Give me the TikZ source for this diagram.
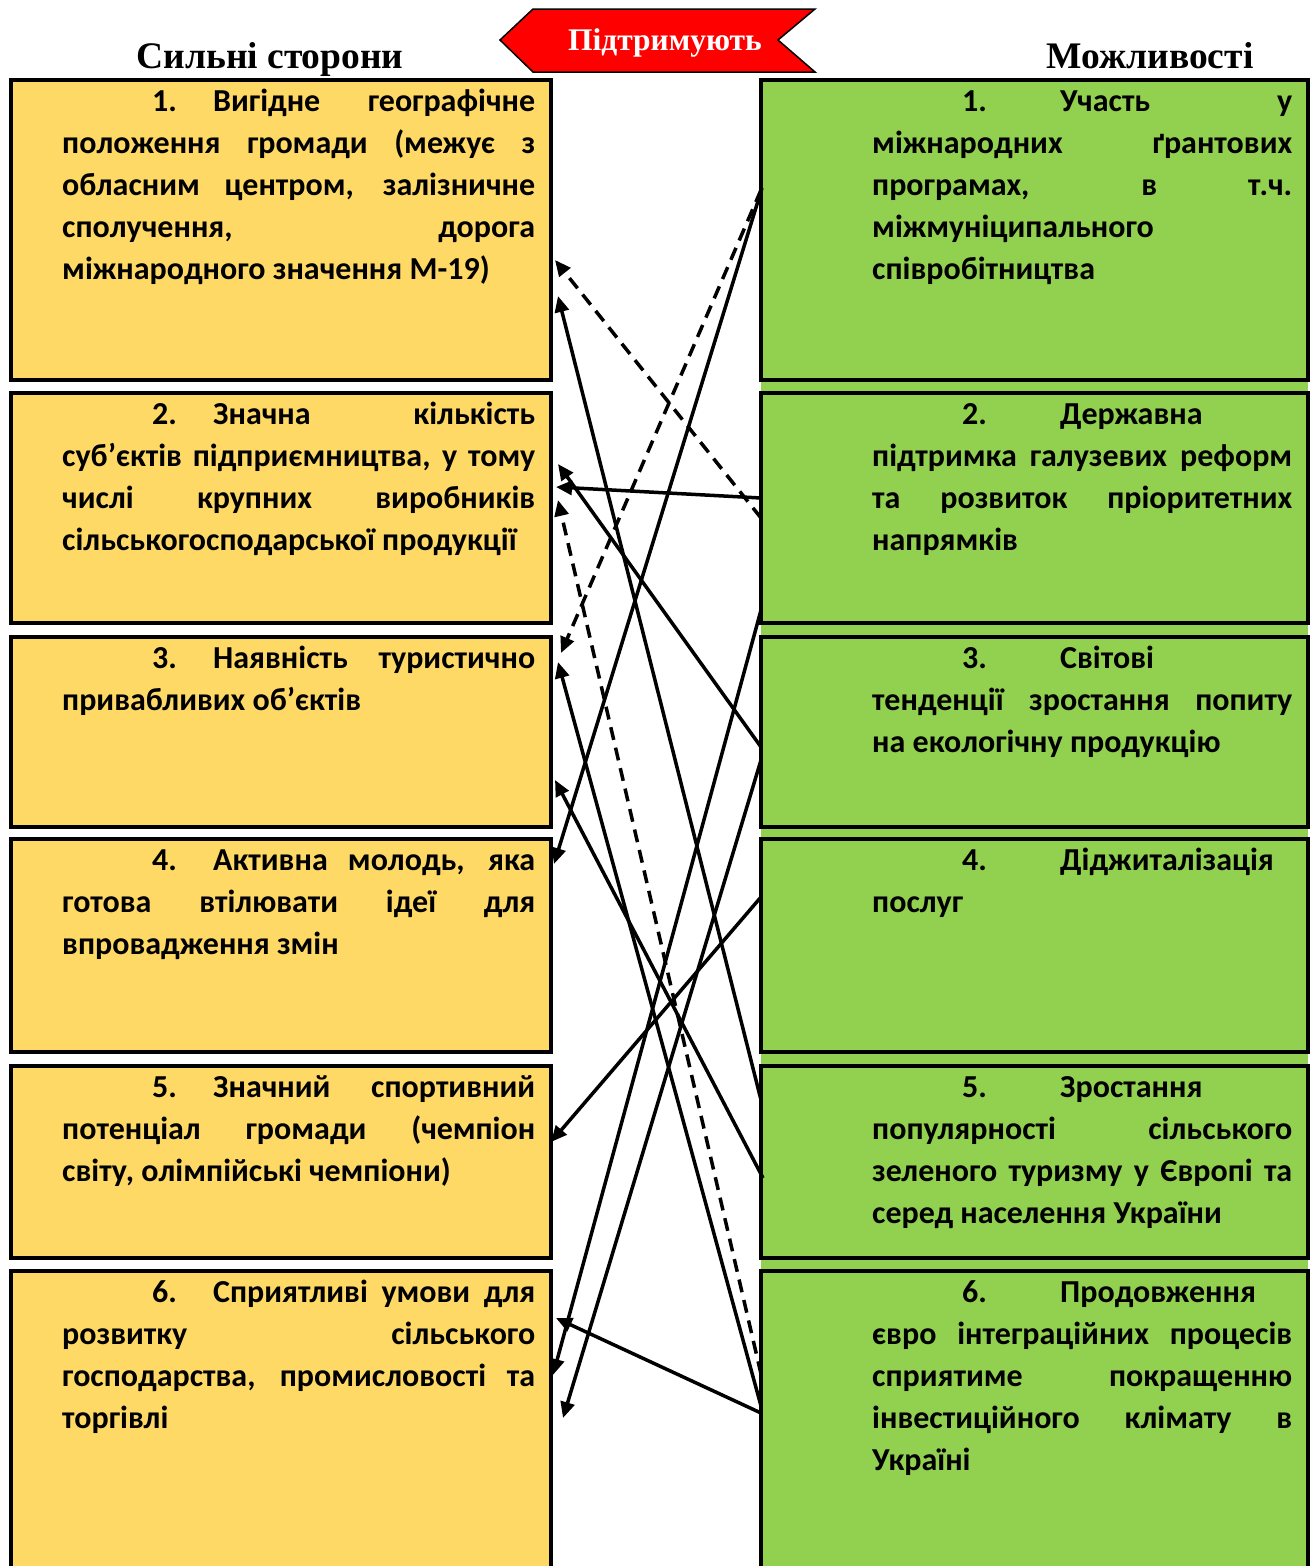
\documentclass[tikz,border=0pt]{standalone}
\usepackage{fontspec}
\newfontfamily\boxfont{Carlito}
\newfontfamily\headfont{Liberation Serif}
\usetikzlibrary{arrows.meta,calc}
\definecolor{sy}{HTML}{FFD966}
\definecolor{og}{HTML}{92D050}
\newcommand\LJ[1]{\makebox[473pt][s]{\spaceskip=\fontdimen2\font plus 1fil\xspaceskip=\spaceskip\relax #1}}
\newcommand\RJ[1]{\makebox[420pt][s]{\spaceskip=\fontdimen2\font plus 1fil\xspaceskip=\spaceskip\relax #1}}
\newcommand\LN[1]{\hspace*{90pt}\makebox[61pt][l]{#1}}
\newcommand\RN[1]{\hspace*{90pt}\makebox[98pt][l]{#1}}
\begin{document}
\begin{tikzpicture}[x=1pt,y=-1pt,
  sbox/.style={draw,line width=4pt,fill=sy,rectangle,anchor=north west,minimum width=540pt,inner sep=0pt,outer sep=0pt},
  obox/.style={draw,line width=4pt,fill=og,rectangle,anchor=north west,minimum width=547pt,inner sep=0pt,outer sep=0pt},
  btext/.style={anchor=base west,inner sep=0pt,align=flush left,font=\boxfont\bfseries\fontsize{32}{42}\selectfont},
  ltext/.style={btext,text width=473pt},
  rtext/.style={btext,text width=420pt},
  head/.style={font=\headfont\bfseries\fontsize{37.5}{40}\selectfont,anchor=base,inner sep=0pt},
  conn/.style={line width=3.5pt,-{Triangle[length=16pt,width=14pt]}},
  dconn/.style={conn,dash pattern=on 13pt off 8pt}]
\useasboundingbox (0,0) rectangle (1315,1566);
\fill[white] (0,0) rectangle (1315,1566);
% green column background
\fill[og] (761,80) rectangle (1308,1566);
% left boxes
\node[sbox,minimum height=300pt] (L1) at (11,80) {};
\node[sbox,minimum height=230pt] (L2) at (11,393) {};
\node[sbox,minimum height=190pt] (L3) at (11,637) {};
\node[sbox,minimum height=213pt] (L4) at (11,839) {};
\node[sbox,minimum height=192pt] (L5) at (11,1066) {};
\node[sbox,minimum height=310pt] (L6) at (11,1271) {};
% right boxes
\node[obox,minimum height=300pt] (R1) at (761,80) {};
\node[obox,minimum height=230pt] (R2) at (761,393) {};
\node[obox,minimum height=190pt] (R3) at (761,637) {};
\node[obox,minimum height=213pt] (R4) at (761,839) {};
\node[obox,minimum height=192pt] (R5) at (761,1066) {};
\node[obox,minimum height=310pt] (R6) at (761,1271) {};
% headers
\node[head] (hs) at (270,68) {Сильні сторони};
\node[head] (ho) at (1150,68) {Можливості};
\draw[fill=red,line width=1.5pt] (500,40) -- (533,9) -- (815,9) -- (778,40) -- (815,72) -- (533,72) -- cycle;
\node[font=\headfont\bfseries\fontsize{31.5}{34}\selectfont,text=white,anchor=base,inner sep=0pt] (sup) at (665,50) {Підтримують};
% left texts
\node[ltext] (t1) at ([shift={(51,31)}]L1.north west) {\LJ{\LN{1.}Вигідне географічне}\\
\LJ{положення громади (межує з}\\
\LJ{обласним центром, залізничне}\\
\LJ{сполучення, дорога}\\
міжнародного значення М-19)};
\node[ltext] (t2) at ([shift={(51,31)}]L2.north west) {\LJ{\LN{2.}Значна кількість}\\
\LJ{суб’єктів підприємництва, у тому}\\
\LJ{числі крупних виробників}\\
сільськогосподарської продукції};
\node[ltext] (t3) at ([shift={(51,31)}]L3.north west) {\LJ{\LN{3.}Наявність туристично}\\
привабливих об’єктів};
\node[ltext] (t4) at ([shift={(51,31)}]L4.north west) {\LJ{\LN{4.}Активна молодь, яка}\\
\LJ{готова втілювати ідеї для}\\
впровадження змін};
\node[ltext] (t5) at ([shift={(51,31)}]L5.north west) {\LJ{\LN{5.}Значний спортивний}\\
\LJ{потенціал громади (чемпіон}\\
світу, олімпійські чемпіони)};
\node[ltext] (t6) at ([shift={(51,31)}]L6.north west) {\LJ{\LN{6.}Сприятливі умови для}\\
\LJ{розвитку сільського}\\
\LJ{господарства, промисловості та}\\
торгівлі};
% right texts
\node[rtext] (u1) at ([shift={(111,31)}]R1.north west) {\RJ{\RN{1.}Участь у}\\
\RJ{міжнародних ґрантових}\\
\RJ{програмах, в т.ч.}\\
міжмуніципального\\
співробітництва};
\node[rtext] (u2) at ([shift={(111,31)}]R2.north west) {\RN{2.}Державна\\
\RJ{підтримка галузевих реформ}\\
\RJ{та розвиток пріоритетних}\\
напрямків};
\node[rtext] (u3) at ([shift={(111,31)}]R3.north west) {\RN{3.}Світові\\
\RJ{тенденції зростання попиту}\\
на екологічну продукцію};
\node[rtext] (u4) at ([shift={(111,31)}]R4.north west) {\RN{4.}Діджиталізація\\
послуг};
\node[rtext] (u5) at ([shift={(111,31)}]R5.north west) {\RN{5.}Зростання\\
\RJ{популярності сільського}\\
\RJ{зеленого туризму у Європі та}\\
серед населення України};
\node[rtext] (u6) at ([shift={(111,31)}]R6.north west) {\RN{6.}Продовження\\
\RJ{євро інтеграційних процесів}\\
\RJ{сприятиме покращенню}\\
\RJ{інвестиційного клімату в}\\
Україні};
% connectors
\draw[dconn] ([shift={(0,125)}]R2.north west) -- ([shift={(4,180)}]L1.north east);
\draw[conn]  ([shift={(0,34)}]R5.north west) -- ([shift={(7,216)}]L1.north east);
\draw[dconn] ([shift={(0,110)}]R1.north west) -- ([shift={(10,16)}]L3.north east);
\draw[conn]  ([shift={(1,108)}]R1.north west) -- ([shift={(3,25)}]L4.north east);
\draw[conn]  ([shift={(0,105)}]R2.north west) -- ([shift={(5,94)}]L2.north east);
\draw[conn]  ([shift={(0,110)}]R3.north west) -- ([shift={(7,71)}]L2.north east);
\draw[dconn] ([shift={(0,103)}]R6.north west) -- ([shift={(7,107)}]L2.north east);
\draw[conn]  ([shift={(0,135)}]R6.north west) -- ([shift={(7,25)}]L3.north east);
\draw[conn]  ([shift={(2,112)}]R5.north west) -- ([shift={(4,143)}]L3.north east);
\draw[conn]  ([shift={(0,58)}]R4.north west) -- ([shift={(0,76)}]L5.north east);
\draw[conn]  ([shift={(0,217)}]R2.north west) -- ([shift={(2,104)}]L6.north east);
\draw[conn]  ([shift={(0,123)}]R3.north west) -- ([shift={(12,147)}]L6.north east);
\draw[conn]  ([shift={(0,142)}]R6.north west) -- ([shift={(5,47)}]L6.north east);
\end{tikzpicture}
\end{document}
